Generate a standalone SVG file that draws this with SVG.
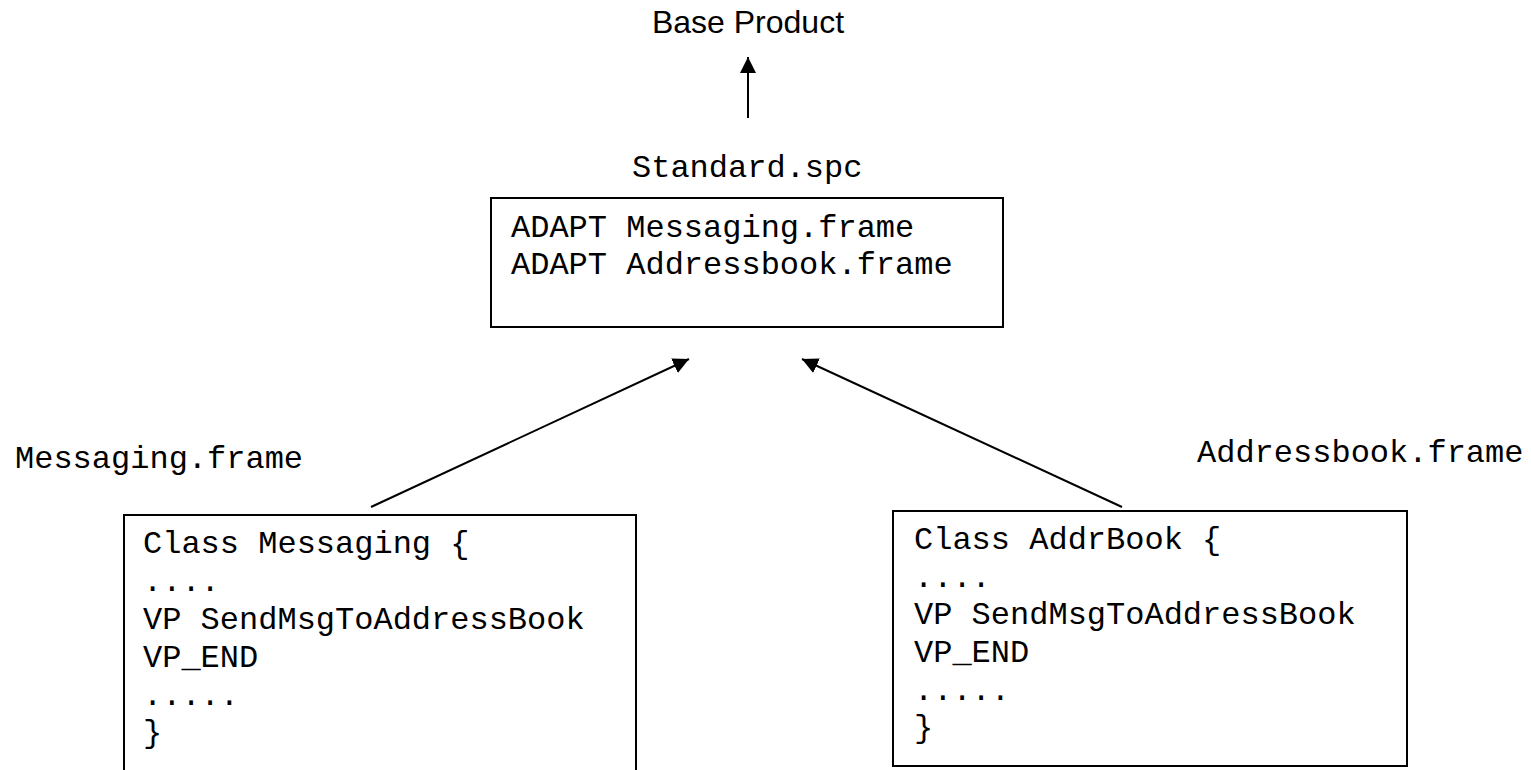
<svg xmlns="http://www.w3.org/2000/svg" width="1531" height="770" viewBox="0 0 1531 770">
  <style>
    .code { font-family: "Liberation Mono", "Courier New", monospace; font-size: 32px; fill: #000; }
    .title { font-family: "Liberation Sans", Arial, sans-serif; font-size: 32px; fill: #000; }
    .box { fill: #fff; stroke: #000; stroke-width: 2; }
    .edge { stroke: #000; stroke-width: 2; fill: none; marker-end: url(#head); }
  </style>
  <defs>
    <marker id="head" markerUnits="userSpaceOnUse" markerWidth="16" markerHeight="16" refX="16" refY="8" orient="auto">
      <path d="M0,0 L16,8 L0,16 Z" fill="#000"/>
    </marker>
  </defs>
  <rect width="1531" height="770" fill="#fff"/>

  <g id="base-product">
    <text class="title" x="748" y="33" text-anchor="middle">Base Product</text>
  </g>

  <g id="standard-spc">
    <text class="code" x="632" y="177">Standard.spc</text>
    <rect class="box" x="491" y="198" width="512" height="129"/>
    <text class="code" x="511" y="237">ADAPT Messaging.frame</text>
    <text class="code" x="511" y="274">ADAPT Addressbook.frame</text>
  </g>

  <g id="messaging-frame">
    <text class="code" x="15" y="468">Messaging.frame</text>
    <rect class="box" x="124" y="515" width="512" height="280"/>
    <text class="code" x="143" y="553">Class Messaging {</text>
    <text class="code" x="143" y="591">....</text>
    <text class="code" x="143" y="629">VP SendMsgToAddressBook</text>
    <text class="code" x="143" y="667">VP_END</text>
    <text class="code" x="143" y="705">.....</text>
    <text class="code" x="143" y="742">}</text>
  </g>

  <g id="addressbook-frame">
    <text class="code" x="1197" y="462">Addressbook.frame</text>
    <rect class="box" x="893" y="511" width="514" height="255"/>
    <text class="code" x="914" y="549">Class AddrBook {</text>
    <text class="code" x="914" y="587">....</text>
    <text class="code" x="914" y="624">VP SendMsgToAddressBook</text>
    <text class="code" x="914" y="662">VP_END</text>
    <text class="code" x="914" y="700">.....</text>
    <text class="code" x="914" y="737">}</text>
  </g>

  <g id="connectors">
    <line class="edge" x1="748" y1="118" x2="748" y2="57"/>
    <line class="edge" x1="371" y1="507" x2="689" y2="359"/>
    <line class="edge" x1="1122" y1="507" x2="802" y2="359"/>
  </g>
</svg>
